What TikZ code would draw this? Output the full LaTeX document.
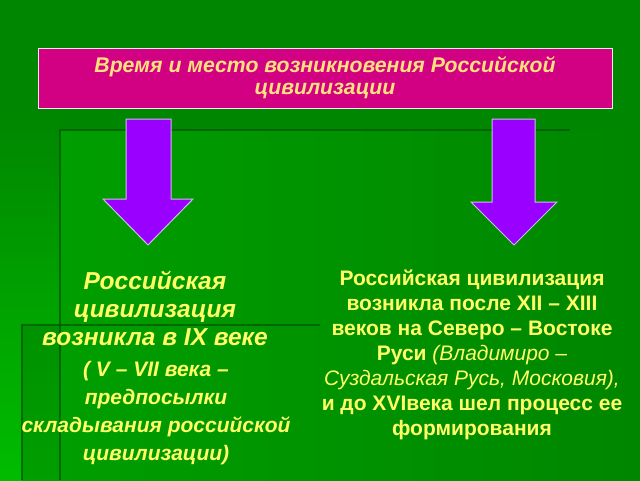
\documentclass[tikz,border=0pt]{standalone}
\usepackage{fontspec}
\setmainfont{Liberation Sans}
\usepackage{tikz}
\usepackage{xcolor}
\usetikzlibrary{positioning}

\definecolor{bgtop}{RGB}{0,134,0}
\definecolor{bgleft}{RGB}{0,188,0}
\definecolor{panel}{RGB}{0,146,0}
\definecolor{panelb}{RGB}{0,158,0}
\definecolor{edge}{RGB}{0,92,0}
\definecolor{boxpink}{RGB}{210,0,130}
\definecolor{titletext}{RGB}{255,226,125}
\definecolor{maintext}{RGB}{255,255,102}
\definecolor{arrowfill}{RGB}{153,0,255}
\definecolor{arrowline}{RGB}{200,190,225}

\tikzset{
  titlebox/.style={draw=white!85!gray,line width=1pt,fill=boxpink,minimum width=574pt,minimum height=60pt,
    text=titletext,align=center,font=\fontsize{21.2}{22}\selectfont\bfseries\itshape},
  bigtext/.style={text=maintext,align=center,font=\fontsize{24.5}{28}\selectfont\bfseries\itshape},
  notetext/.style={text=maintext,align=center,font=\fontsize{21}{28}\selectfont\bfseries\itshape},
  righttext/.style={text=maintext,align=center,font=\fontsize{21}{25}\selectfont\bfseries},
  blockarrow/.style={fill=arrowfill,draw=arrowline,line width=1pt},
  shadowline/.style={draw=edge,line width=2.5pt,opacity=0.8}
}

\begin{document}
\begin{tikzpicture}[x=1pt,y=-1pt]
\useasboundingbox (0,0) rectangle (640,480);
% background panels
\fill[bgtop] (0,0) rectangle (640,480);
\shade[top color=bgtop,bottom color=bgleft] (0,110) rectangle (60,480);
\shade[left color=panelb,right color=bgtop] (60,130) rectangle (640,480);
\shade[top color=panel,bottom color=panelb] (22,325) rectangle (60,480);
\draw[shadowline] (60,480) -- (60,130) -- (570,130);
\draw[shadowline] (22,480) -- (22,325) -- (320,325);

% heading
\node[titlebox] (title) at (325,78) {\raisebox{-2.5pt}{\parbox{520pt}{\centering Время и место возникновения Российской\\цивилизации}}};

% arrows
\draw[blockarrow] (126,119) -- (171,119) -- (171,199) -- (193,199) -- (148,245) -- (103,199) -- (126,199) -- cycle;
\draw[blockarrow] (492,119) -- (535,119) -- (535,202) -- (557,202) -- (514,245) -- (471,202) -- (492,202) -- cycle;

% left column
\node[bigtext] (lefthead) at (155,308) {Российская\\цивилизация\\возникла в IX веке};
\node[notetext] (leftnote) at (156,413) {( V -- VII века --\\предпосылки\\складывания российской\\цивилизации)};

% right column
\node[righttext] (rightnote) at (472,355) {Российская цивилизация\\возникла после XII -- XIII\\веков на Северо -- Востоке\\Руси {\mdseries\itshape (Владимиро --}\\{\mdseries\itshape Суздальская Русь, Московия),}\\и до XVIвека шел процесс ее\\формирования};
\end{tikzpicture}
\end{document}
